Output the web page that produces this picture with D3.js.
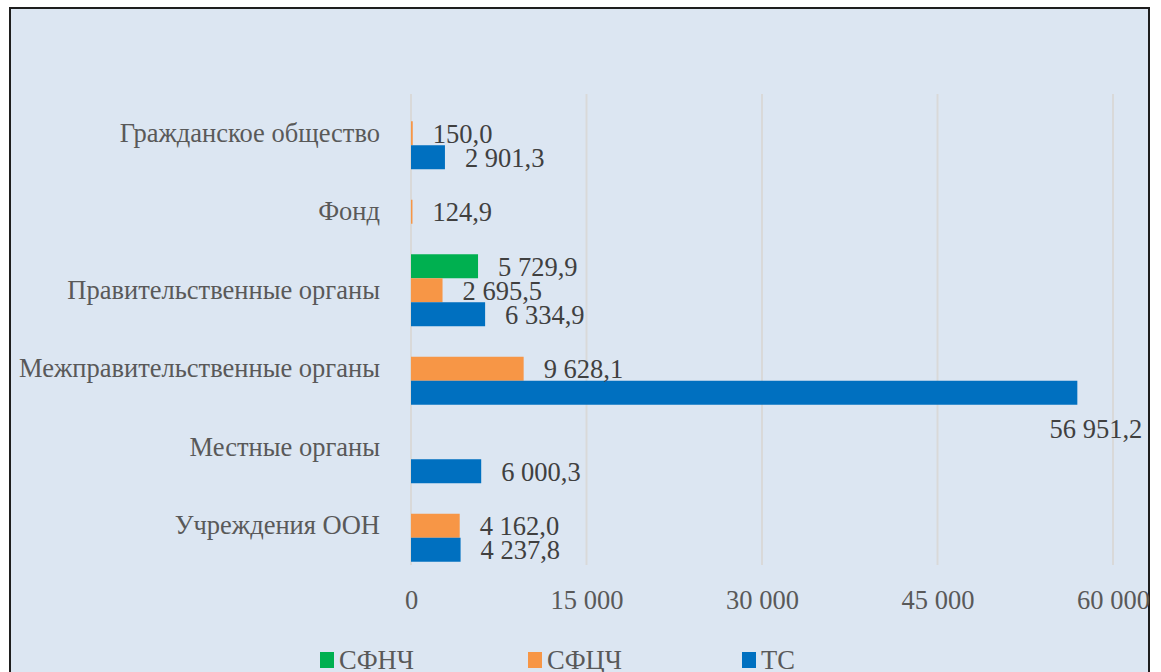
<!DOCTYPE html>
<html>
<head>
<meta charset="utf-8">
<script src="https://cdn.jsdelivr.net/npm/d3@7"></script>
<style>
  html, body { margin: 0; padding: 0; background: #ffffff; }
  svg { display: block; }
  svg text { font-family: "Liberation Serif", "Nimbus Roman", "Nimbus Roman No9 L", FreeSerif, "Noto Serif", "DejaVu Serif", Times, serif; }
</style>
</head>
<body>
<svg id="chart" width="1161" height="672"></svg>
<script>
const categories = ["Гражданское общество", "Фонд", "Правительственные органы", "Межправительственные органы", "Местные органы", "Учреждения ООН"];
const seriesNames = ["СФНЧ", "СФЦЧ", "ТС"];
const seriesColors = ["#00b050", "#f79646", "#0070c0"];
const sfnch = [null, null, 5729.9, null, null, null];
const sfcch = [150.0, 124.9, 2695.5, 9628.1, null, 4162.0];
const ts = [2901.3, null, 6334.9, 56951.2, 6000.3, 4237.8];
const xTicks = [0, 15000, 30000, 45000, 60000];

const seriesValues = [sfnch, sfcch, ts];
const svg = d3.select("#chart");
const FS = 26.5;

// frame
svg.append("rect").attr("x", 10).attr("y", 8).attr("width", 1139).attr("height", 680)
  .attr("fill", "#dce6f2").attr("stroke", "#1e1e1e").attr("stroke-width", 2);

const x = d3.scaleLinear().domain([0, 60000]).range([411, 1113]);
const y = d3.scaleBand().domain(categories).range([94, 565]).paddingInner(0.083).paddingOuter(0.0415);
const ySub = d3.scaleBand().domain(seriesNames).range([0, y.bandwidth()]).padding(0);

const fmt = v => d3.format(",.1f")(v).replace(/,/g, " ").replace(".", ",");
const fmtTick = v => d3.format(",")(v).replace(/,/g, " ");

// gridlines
svg.append("g").selectAll("line").data(xTicks).join("line")
  .attr("x1", d => x(d)).attr("x2", d => x(d))
  .attr("y1", 94).attr("y2", 565)
  .attr("stroke", "#d9d9d9").attr("stroke-width", 2);

// x axis labels
const xAxis = d3.axisBottom(x).tickValues(xTicks).tickFormat(fmtTick).tickSize(0).tickPadding(0);
const gx = svg.append("g").attr("transform", "translate(0,590)").call(xAxis);
gx.select(".domain").remove();
gx.attr("font-family", null).attr("font-size", null);
gx.selectAll("text").attr("font-size", FS).attr("fill", "#595959").attr("dy", "0.71em");

// y axis labels
const yAxis = d3.axisLeft(y).tickSize(0).tickPadding(0);
const gy = svg.append("g").attr("transform", "translate(380,0)").call(yAxis);
gy.select(".domain").remove();
gy.attr("font-family", null).attr("font-size", null);
gy.selectAll("text").attr("font-size", FS).attr("fill", "#595959");

// bars
const data = [];
categories.forEach((c, i) => {
  seriesNames.forEach((s, j) => {
    const v = seriesValues[j][i];
    if (v !== null) data.push({ cat: c, series: s, idx: j, value: v });
  });
});

svg.append("g").selectAll("rect").data(data).join("rect")
  .attr("x", x(0))
  .attr("y", d => y(d.cat) + ySub(d.series))
  .attr("width", d => Math.max(0, x(d.value) - x(0)))
  .attr("height", ySub.bandwidth())
  .attr("fill", d => seriesColors[d.idx]);

// value labels
svg.append("g").selectAll("text").data(data).join("text")
  .attr("x", d => d.value > 50000 ? x(d.value) + 65 : x(d.value) + 20)
  .attr("y", d => {
    const cy = y(d.cat) + ySub(d.series) + ySub.bandwidth() / 2;
    return d.value > 50000 ? cy + 36 : cy;
  })
  .attr("dy", "0.35em")
  .attr("text-anchor", d => d.value > 50000 ? "end" : "start")
  .attr("font-size", FS).attr("fill", "#404040")
  .text(d => fmt(d.value));

// legend
const legendX = [320, 528, 742];
const lg = svg.append("g").selectAll("g").data(seriesNames).join("g")
  .attr("transform", (d, i) => `translate(${legendX[i]},652)`);
lg.append("rect").attr("width", 14).attr("height", 16).attr("fill", (d, i) => seriesColors[i]);
lg.append("text").attr("x", 19).attr("y", 8).attr("dy", "0.35em")
  .attr("font-size", FS).attr("fill", "#595959").text(d => d);
</script>
</body>
</html>
